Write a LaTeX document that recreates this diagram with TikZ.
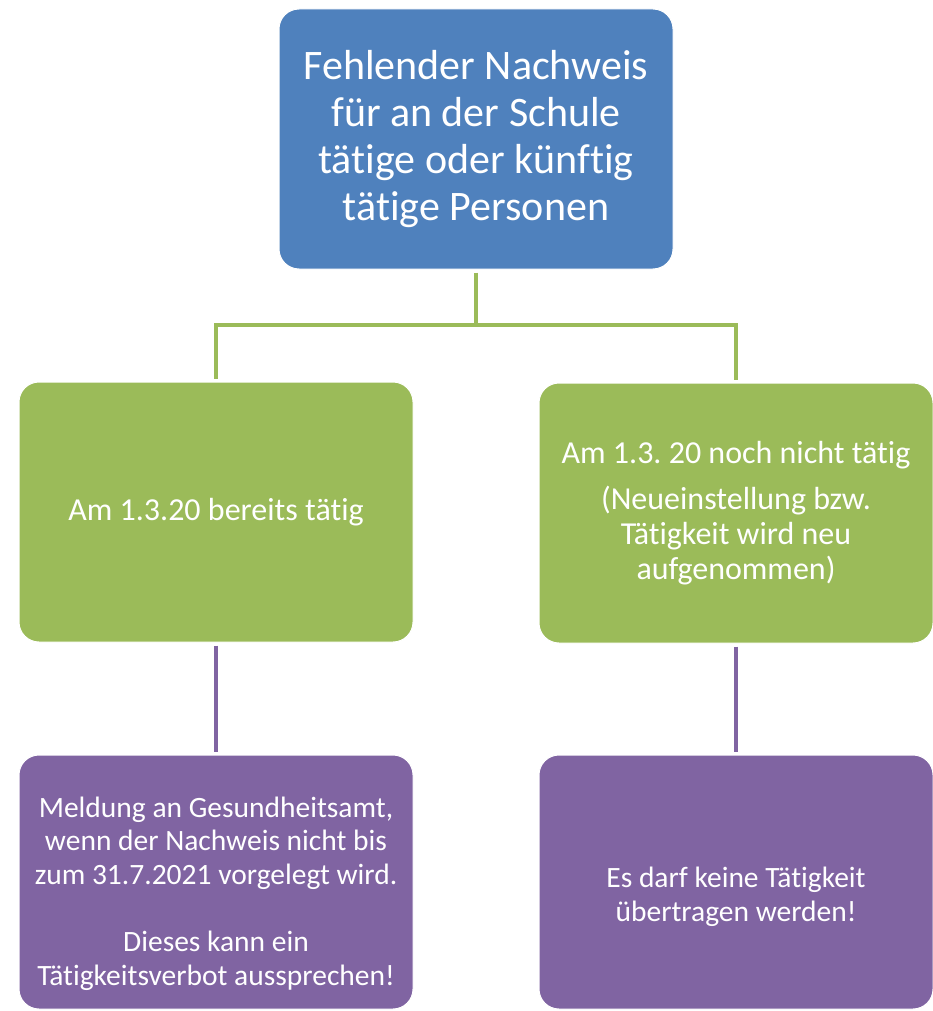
\documentclass[tikz,border=0pt]{standalone}
\usepackage{fontspec}
\setmainfont{Carlito}[Ligatures=NoCommon]
\frenchspacing
\definecolor{boxblue}{HTML}{4F81BD}
\definecolor{boxgreen}{HTML}{9BBB59}
\definecolor{boxpurple}{HTML}{8064A2}
\tikzset{
  box/.style={rectangle, rounded corners=20pt, draw=white, line width=1pt,
    text=white, align=center, minimum width=394pt, inner sep=4pt},
  topbox/.style={box, fill=boxblue, minimum height=260pt,
    font=\fontsize{42}{47}\selectfont},
  greenbox/.style={box, fill=boxgreen, minimum height=260pt,
    font=\fontsize{32}{35}\selectfont},
  purplebox/.style={box, fill=boxpurple, minimum height=254pt,
    font=\fontsize{29.5}{33.5}\selectfont},
  greenline/.style={draw=boxgreen, line width=4pt},
  purpleline/.style={draw=boxpurple, line width=4pt}
}
\begin{document}
\begin{tikzpicture}[x=1pt,y=-1pt]
                \useasboundingbox (0,0) rectangle (933,1011);
                \begin{scope}
                    \node (T) [topbox] at (476,139) {Fehlender Nachweis\\für an der Schule\\tätige oder künftig\\tätige Personen};
                    \node (L1) [greenbox] at (216,512) {Am 1.3.20 bereits tätig};
                    \node (R1) [greenbox] at (736,513) {Am 1.3. 20 noch nicht tätig\\[11pt](Neueinstellung bzw.\\Tätigkeit wird neu\\aufgenommen)};
                    \node (L2) [purplebox] at (216,882) {\rule{0pt}{44pt}Meldung an Gesundheitsamt,\\wenn der Nachweis nicht bis\\zum 31.7.2021 vorgelegt wird.\\[34pt]Dieses kann ein\\Tätigkeitsverbot aussprechen!};
                    \node (R2) [purplebox] at (736,882) {\rule{0pt}{50pt}Es darf keine Tätigkeit\\übertragen werden!};
                    \coordinate (J) at (476,325);
                \end{scope}
                \begin{scope}[shorten >=3pt, shorten <=3pt]
                    \draw [greenline, shorten >=0pt] (T) -- (J);
                    \draw [greenline, shorten <=-2pt] (J) -| (L1);
                    \draw [greenline, shorten <=-2pt] (J) -| (R1);
                    \draw [purpleline] (L1) -- (L2);
                    \draw [purpleline] (R1) -- (R2);
                \end{scope}
            \end{tikzpicture}
\end{document}
